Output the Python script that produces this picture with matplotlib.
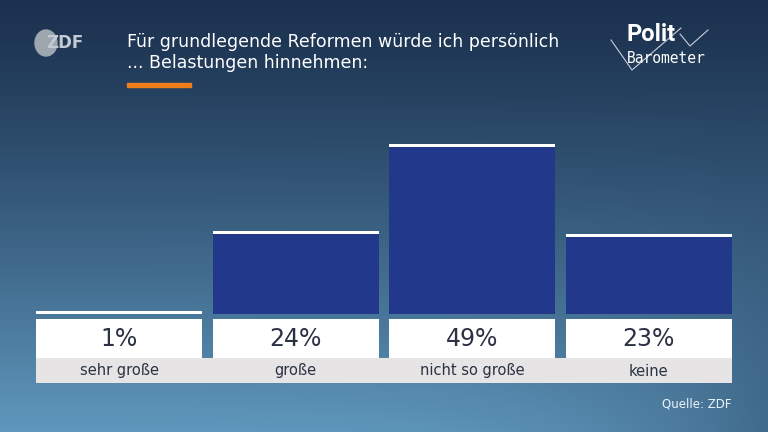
import matplotlib.pyplot as plt
import numpy as np
from matplotlib.lines import Line2D
from matplotlib.patches import Ellipse, Rectangle

categories = ["sehr große", "große", "nicht so große", "keine"]
shares = [1, 24, 49, 23]
value_labels = ["1%", "24%", "49%", "23%"]

TITLE = "Für grundlegende Reformen würde ich persönlich\n... Belastungen hinnehmen:"
SOURCE = "Quelle: ZDF"

W, H = 768, 432
BAR_BLUE = "#22398b"
TEXT_DARK = "#2b3243"
GREY_BAND = "#e6e4e4"
ORANGE = "#f07d1c"


def px_box(left, top, right, bottom):
    # figure rectangle from pixel edges (origin top left)
    return [left / W, 1 - bottom / H, (right - left) / W, (bottom - top) / H]


def draw_background(fig):
    bg = fig.add_axes([0, 0, 1, 1], zorder=0)
    yy = np.linspace(0, 1, H)[:, None, None]
    xx = np.linspace(0, 1, W)[None, :, None]
    top = np.array([0x1b, 0x31, 0x4f]) / 255
    bottom = np.array([0x5f, 0x98, 0xbd]) / 255
    t = yy ** 1.2
    img = top + (bottom - top) * t
    # darker towards the lower right corner
    shade = (xx ** 4) * (yy ** 1.5) * 0.45
    img = img * (1 - shade) + top * shade
    bg.imshow(img, extent=(0, W, H, 0), aspect="auto")
    bg.set_xlim(0, W)
    bg.set_ylim(H, 0)
    bg.axis("off")


def draw_decor(fig):
    ov = fig.add_axes([0, 0, 1, 1], zorder=5)
    ov.set_xlim(0, W)
    ov.set_ylim(H, 0)
    ov.patch.set_alpha(0)
    ov.axis("off")

    # ZDF logo
    ov.add_patch(Ellipse((46, 43), 22, 26, color="#9ea6b0"))
    ov.text(46, 43, "ZDF", color="#c4cad1", fontsize=12, fontweight="bold", ha="left", va="center")

    # title + orange rule
    ov.text(127, 33, TITLE, color="white", fontsize=12.5, ha="left", va="top",
            linespacing=1.25, family="DejaVu Sans")
    ov.add_patch(Rectangle((127, 83), 64, 4, color=ORANGE))

    # Politbarometer logo
    ov.add_line(Line2D([611, 632, 681], [40, 70, 28], color="#c8cfd8", lw=0.8))
    ov.add_line(Line2D([680, 690, 708], [34, 46, 30], color="#c8cfd8", lw=0.8))
    ov.text(626, 23, "Polit", color="white", fontsize=17, fontweight="bold", family="Roboto", va="top")
    ov.text(627, 66, "Barometer", color="white", fontsize=10.5, family="DejaVu Sans Mono", va="bottom")

    ov.text(732, 404, SOURCE, color="#eef3f8", fontsize=8.5, ha="right", va="center")


def main():
    fig = plt.figure(figsize=(W / 100, H / 100), dpi=100)
    draw_background(fig)

    x = np.arange(len(categories))
    width = 0.943
    x_lim = (-0.4716, len(categories) - 1 + 0.4716)

    # bars: baseline at 314 px, 49% reaches 144 px
    px_per_pct = (314 - 144) / 49
    ax = fig.add_axes(px_box(36, 100, 732, 314), zorder=2)
    ax.patch.set_alpha(0)
    ax.bar(x, shares, width=width, color=BAR_BLUE)
    cap = 3 / px_per_pct
    ax.bar(x, [cap] * len(shares), bottom=np.array(shares) - cap, width=width, color="white")
    ax.set_xlim(*x_lim)
    ax.set_ylim(0, 214 / px_per_pct)
    ax.axis("off")

    # label table under the bars
    lab = fig.add_axes(px_box(36, 319, 732, 383), zorder=3)
    lab.patch.set_alpha(0)
    lab.set_xlim(*x_lim)
    lab.set_ylim(64, 0)
    lab.bar(x, 25, bottom=39, width=1.0, color=GREY_BAND)
    lab.bar(x, 39, bottom=0, width=width, color="white")
    for i, (val, cat) in enumerate(zip(value_labels, categories)):
        lab.text(i, 20, val, ha="center", va="center", fontsize=17, color=TEXT_DARK)
        lab.text(i, 52, cat, ha="center", va="center", fontsize=10.5, color=TEXT_DARK)
    lab.axis("off")

    draw_decor(fig)
    fig.savefig("out.png", dpi=100)
    plt.close(fig)


if __name__ == "__main__":
    main()
